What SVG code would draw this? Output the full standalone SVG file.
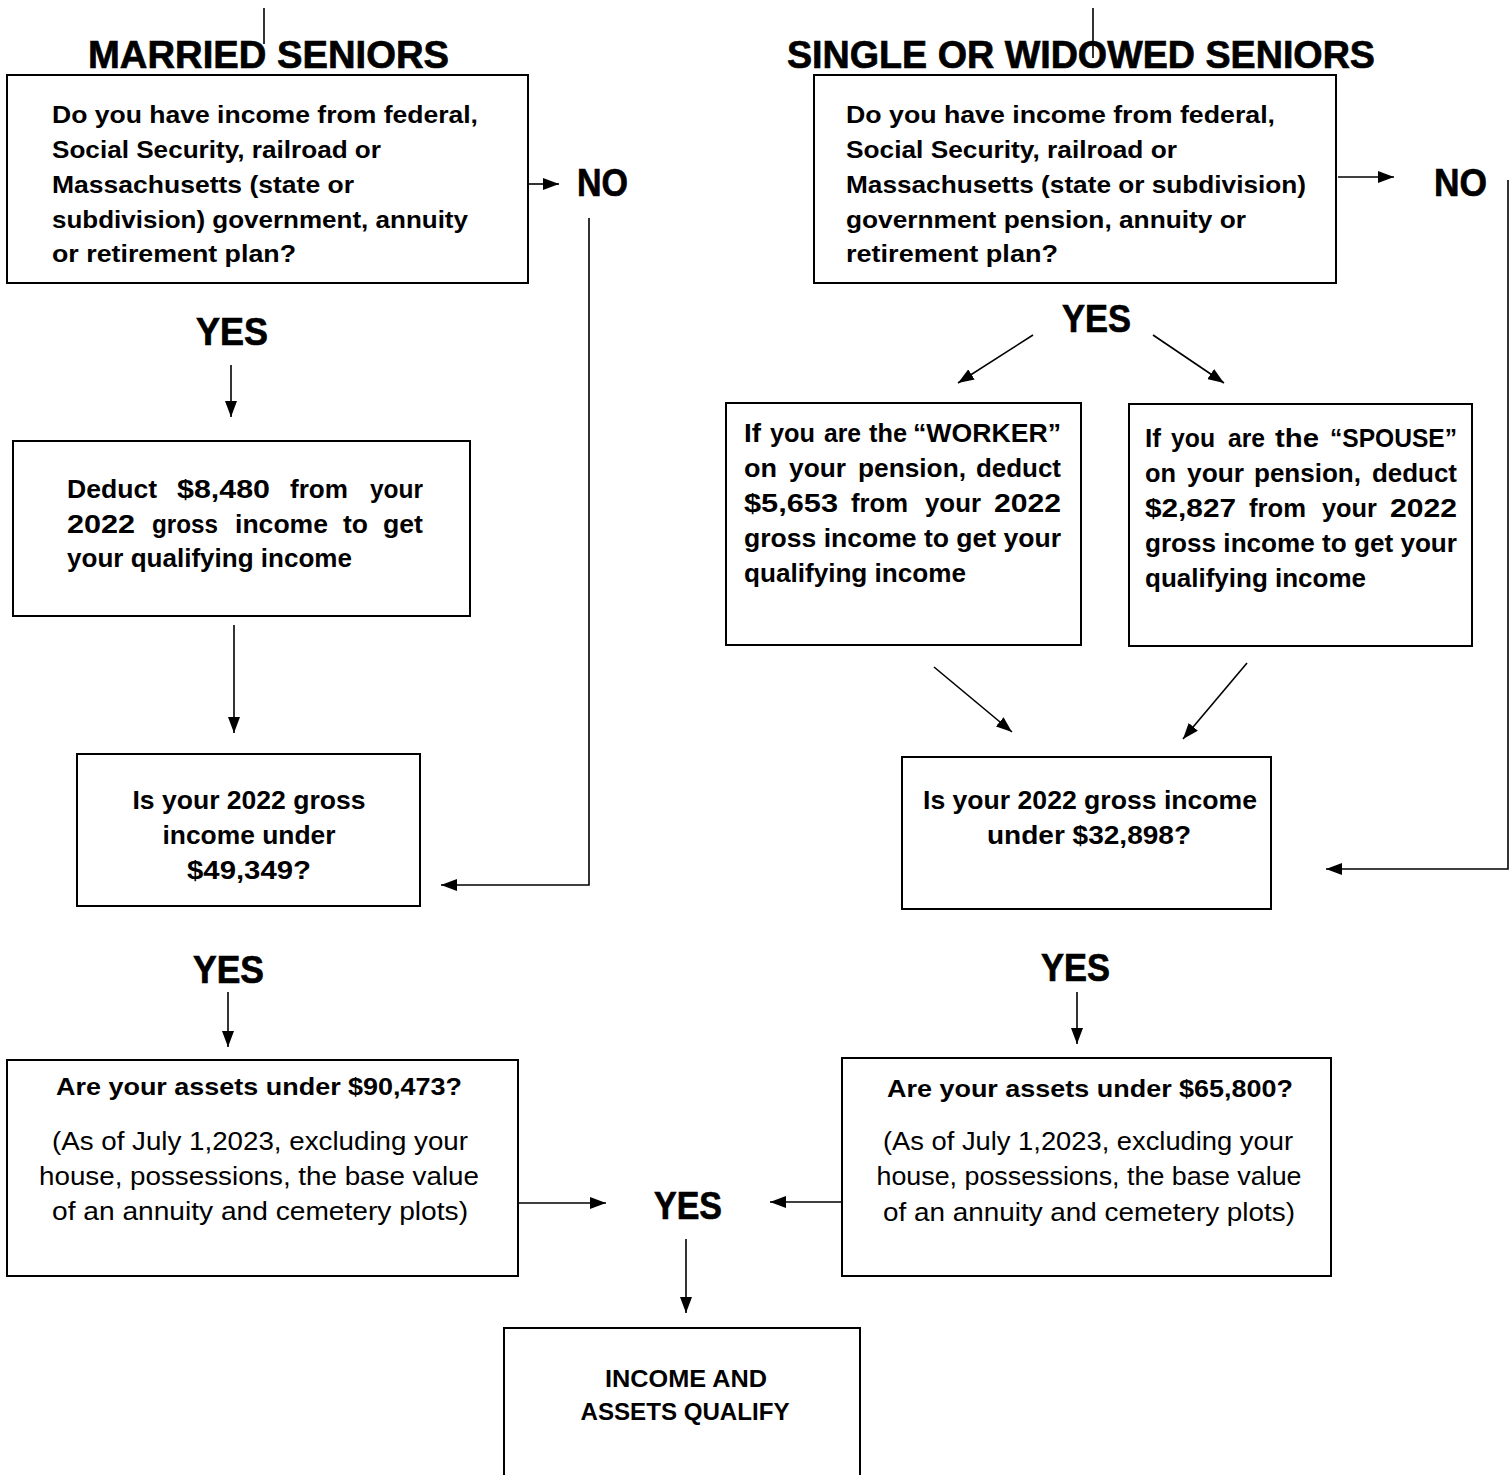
<svg xmlns="http://www.w3.org/2000/svg" width="1512" height="1475" viewBox="0 0 1512 1475">
<style>
.box{fill:#fff;stroke:#000;stroke-width:2}
.t{font-family:"Liberation Sans",Arial,sans-serif;font-weight:bold;font-size:24px;fill:#000}
.tr{font-family:"Liberation Sans",Arial,sans-serif;font-weight:normal;font-size:25px;fill:#000}
.tb{font-family:"Liberation Sans",Arial,sans-serif;font-weight:bold;font-size:25px;fill:#000}
.h{font-family:"Liberation Sans",Arial,sans-serif;font-weight:bold;font-size:39px;fill:#000;stroke:#000;stroke-width:0.7}
.c{text-anchor:middle}
.ln{fill:none;stroke:#000;stroke-width:1.6}
</style>
<defs>
<marker id="ah" viewBox="0 0 16 12" refX="16" refY="6" markerWidth="16" markerHeight="12" markerUnits="userSpaceOnUse" orient="auto">
<path d="M0,0 L16,6 L0,12 z" fill="#000"/>
</marker>
</defs>
<rect width="1512" height="1475" fill="#fff"/>

<g id="connectors">
<line class="ln" x1="264" y1="8" x2="264" y2="44"/>
<line class="ln" x1="1093" y1="8" x2="1093" y2="58"/>
<line class="ln" x1="527" y1="184" x2="559" y2="184" marker-end="url(#ah)"/>
<polyline class="ln" points="589,218 589,885 441,885" marker-end="url(#ah)"/>
<line class="ln" x1="1338" y1="177" x2="1394" y2="177" marker-end="url(#ah)"/>
<polyline class="ln" points="1508,180 1508,869 1326,869" marker-end="url(#ah)"/>
<line class="ln" x1="231" y1="365" x2="231" y2="417" marker-end="url(#ah)"/>
<line class="ln" x1="234" y1="625" x2="234" y2="733" marker-end="url(#ah)"/>
<line class="ln" x1="1033" y1="335" x2="958" y2="383" marker-end="url(#ah)"/>
<line class="ln" x1="1153" y1="335" x2="1224" y2="383" marker-end="url(#ah)"/>
<line class="ln" x1="934" y1="667" x2="1012" y2="732" marker-end="url(#ah)"/>
<line class="ln" x1="1247" y1="663" x2="1183" y2="739" marker-end="url(#ah)"/>
<line class="ln" x1="228" y1="992" x2="228" y2="1047" marker-end="url(#ah)"/>
<line class="ln" x1="1077" y1="992" x2="1077" y2="1044" marker-end="url(#ah)"/>
<line class="ln" x1="519" y1="1203" x2="606" y2="1203" marker-end="url(#ah)"/>
<line class="ln" x1="843" y1="1202" x2="770" y2="1202" marker-end="url(#ah)"/>
<line class="ln" x1="686" y1="1239" x2="686" y2="1313" marker-end="url(#ah)"/>
</g>

<g id="title-married"><text class="h" x="88" y="68" textLength="361" lengthAdjust="spacingAndGlyphs">MARRIED SENIORS</text></g>
<g id="title-single"><text class="h" x="787" y="68" textLength="588" lengthAdjust="spacingAndGlyphs">SINGLE OR WIDOWED SENIORS</text></g>

<g id="married-q1">
<rect class="box" x="7" y="75" width="521" height="208"/>
<text class="t" x="52" y="123" textLength="426" lengthAdjust="spacingAndGlyphs">Do you have income from federal,</text>
<text class="t" x="52" y="158" textLength="329" lengthAdjust="spacingAndGlyphs">Social Security, railroad or</text>
<text class="t" x="52" y="193" textLength="302" lengthAdjust="spacingAndGlyphs">Massachusetts (state or</text>
<text class="t" x="52" y="228" textLength="416" lengthAdjust="spacingAndGlyphs">subdivision) government, annuity</text>
<text class="t" x="52" y="262" textLength="244" lengthAdjust="spacingAndGlyphs">or retirement plan?</text>
</g>

<g id="single-q1">
<rect class="box" x="814" y="75" width="522" height="208"/>
<text class="t" x="846" y="123" textLength="429" lengthAdjust="spacingAndGlyphs">Do you have income from federal,</text>
<text class="t" x="846" y="158" textLength="331" lengthAdjust="spacingAndGlyphs">Social Security, railroad or</text>
<text class="t" x="846" y="193" textLength="460" lengthAdjust="spacingAndGlyphs">Massachusetts (state or subdivision)</text>
<text class="t" x="846" y="228" textLength="400" lengthAdjust="spacingAndGlyphs">government pension, annuity or</text>
<text class="t" x="846" y="262" textLength="212" lengthAdjust="spacingAndGlyphs">retirement plan?</text>
</g>

<g id="no-married"><text class="h" x="577" y="196" textLength="51" lengthAdjust="spacingAndGlyphs">NO</text></g>
<g id="no-single"><text class="h" x="1434" y="196" textLength="53" lengthAdjust="spacingAndGlyphs">NO</text></g>
<g id="yes-married-1"><text class="h" x="196" y="345" textLength="72" lengthAdjust="spacingAndGlyphs">YES</text></g>
<g id="yes-single-1"><text class="h" x="1062" y="332" textLength="69" lengthAdjust="spacingAndGlyphs">YES</text></g>

<g id="married-deduct">
<rect class="box" x="13" y="441" width="457" height="175"/>
<text class="tb" y="498"><tspan x="67" textLength="90" lengthAdjust="spacingAndGlyphs">Deduct</tspan></text>
<text class="tb" y="498"><tspan x="177" textLength="93" lengthAdjust="spacingAndGlyphs">$8,480</tspan></text>
<text class="tb" y="498"><tspan x="290" textLength="58" lengthAdjust="spacingAndGlyphs">from</tspan></text>
<text class="tb" y="498"><tspan x="370" textLength="53" lengthAdjust="spacingAndGlyphs">your</tspan></text>
<text class="tb" y="533"><tspan x="67" textLength="68" lengthAdjust="spacingAndGlyphs">2022</tspan></text>
<text class="tb" y="533"><tspan x="152" textLength="66" lengthAdjust="spacingAndGlyphs">gross</tspan></text>
<text class="tb" y="533"><tspan x="235" textLength="93" lengthAdjust="spacingAndGlyphs">income</tspan></text>
<text class="tb" y="533"><tspan x="343" textLength="25" lengthAdjust="spacingAndGlyphs">to</tspan></text>
<text class="tb" y="533"><tspan x="383" textLength="40" lengthAdjust="spacingAndGlyphs">get</tspan></text>
<text class="tb" x="67" y="567" textLength="285" lengthAdjust="spacingAndGlyphs">your qualifying income</text>
</g>

<g id="single-worker">
<rect class="box" x="726" y="403" width="355" height="242"/>
<text class="tb" y="442"><tspan x="744" textLength="17" lengthAdjust="spacingAndGlyphs">If</tspan></text>
<text class="tb" y="442"><tspan x="770" textLength="45" lengthAdjust="spacingAndGlyphs">you</tspan></text>
<text class="tb" y="442"><tspan x="824" textLength="37" lengthAdjust="spacingAndGlyphs">are</tspan></text>
<text class="tb" y="442"><tspan x="869" textLength="38" lengthAdjust="spacingAndGlyphs">the</tspan></text>
<text class="tb" y="442"><tspan x="913" textLength="148" lengthAdjust="spacingAndGlyphs">“WORKER”</tspan></text>
<text class="tb" y="477"><tspan x="744" textLength="33" lengthAdjust="spacingAndGlyphs">on</tspan></text>
<text class="tb" y="477"><tspan x="789" textLength="57" lengthAdjust="spacingAndGlyphs">your</tspan></text>
<text class="tb" y="477"><tspan x="858" textLength="108" lengthAdjust="spacingAndGlyphs">pension,</tspan></text>
<text class="tb" y="477"><tspan x="976" textLength="85" lengthAdjust="spacingAndGlyphs">deduct</tspan></text>
<text class="tb" y="512"><tspan x="744" textLength="94" lengthAdjust="spacingAndGlyphs">$5,653</tspan></text>
<text class="tb" y="512"><tspan x="851" textLength="57" lengthAdjust="spacingAndGlyphs">from</tspan></text>
<text class="tb" y="512"><tspan x="925" textLength="56" lengthAdjust="spacingAndGlyphs">your</tspan></text>
<text class="tb" y="512"><tspan x="994" textLength="67" lengthAdjust="spacingAndGlyphs">2022</tspan></text>
<text class="tb" x="744" y="547" textLength="317" lengthAdjust="spacingAndGlyphs">gross income to get your</text>
<text class="tb" x="744" y="582" textLength="222" lengthAdjust="spacingAndGlyphs">qualifying income</text>
</g>

<g id="single-spouse">
<rect class="box" x="1129" y="404" width="343" height="242"/>
<text class="tb" y="447"><tspan x="1145" textLength="16" lengthAdjust="spacingAndGlyphs">If</tspan></text>
<text class="tb" y="447"><tspan x="1171" textLength="44" lengthAdjust="spacingAndGlyphs">you</tspan></text>
<text class="tb" y="447"><tspan x="1228" textLength="37" lengthAdjust="spacingAndGlyphs">are</tspan></text>
<text class="tb" y="447"><tspan x="1275" textLength="44" lengthAdjust="spacingAndGlyphs">the</tspan></text>
<text class="tb" y="447"><tspan x="1330" textLength="127" lengthAdjust="spacingAndGlyphs">“SPOUSE”</tspan></text>
<text class="tb" y="482"><tspan x="1145" textLength="31" lengthAdjust="spacingAndGlyphs">on</tspan></text>
<text class="tb" y="482"><tspan x="1187" textLength="57" lengthAdjust="spacingAndGlyphs">your</tspan></text>
<text class="tb" y="482"><tspan x="1254" textLength="107" lengthAdjust="spacingAndGlyphs">pension,</tspan></text>
<text class="tb" y="482"><tspan x="1372" textLength="85" lengthAdjust="spacingAndGlyphs">deduct</tspan></text>
<text class="tb" y="517"><tspan x="1145" textLength="91" lengthAdjust="spacingAndGlyphs">$2,827</tspan></text>
<text class="tb" y="517"><tspan x="1249" textLength="57" lengthAdjust="spacingAndGlyphs">from</tspan></text>
<text class="tb" y="517"><tspan x="1322" textLength="55" lengthAdjust="spacingAndGlyphs">your</tspan></text>
<text class="tb" y="517"><tspan x="1390" textLength="67" lengthAdjust="spacingAndGlyphs">2022</tspan></text>
<text class="tb" x="1145" y="552" textLength="312" lengthAdjust="spacingAndGlyphs">gross income to get your</text>
<text class="tb" x="1145" y="587" textLength="221" lengthAdjust="spacingAndGlyphs">qualifying income</text>
</g>

<g id="married-income">
<rect class="box" x="77" y="754" width="343" height="152"/>
<text class="tb c" x="249" y="809" textLength="233" lengthAdjust="spacingAndGlyphs">Is your 2022 gross</text>
<text class="tb c" x="249" y="844" textLength="173" lengthAdjust="spacingAndGlyphs">income under</text>
<text class="tb c" x="249" y="879" textLength="124" lengthAdjust="spacingAndGlyphs">$49,349?</text>
</g>

<g id="single-income">
<rect class="box" x="902" y="757" width="369" height="152"/>
<text class="tb c" x="1090" y="809" textLength="334" lengthAdjust="spacingAndGlyphs">Is your 2022 gross income</text>
<text class="tb c" x="1089" y="844" textLength="204" lengthAdjust="spacingAndGlyphs">under $32,898?</text>
</g>

<g id="yes-married-2"><text class="h" x="193" y="983" textLength="71" lengthAdjust="spacingAndGlyphs">YES</text></g>
<g id="yes-single-2"><text class="h" x="1041" y="981" textLength="69" lengthAdjust="spacingAndGlyphs">YES</text></g>

<g id="married-assets">
<rect class="box" x="7" y="1060" width="511" height="216"/>
<text class="t c" x="259" y="1095" textLength="406" lengthAdjust="spacingAndGlyphs">Are your assets under $90,473?</text>
<text class="tr c" x="260" y="1150" textLength="416" lengthAdjust="spacingAndGlyphs">(As of July 1,2023, excluding your</text>
<text class="tr c" x="259" y="1185" textLength="440" lengthAdjust="spacingAndGlyphs">house, possessions, the base value</text>
<text class="tr c" x="260" y="1220" textLength="416" lengthAdjust="spacingAndGlyphs">of an annuity and cemetery plots)</text>
</g>

<g id="single-assets">
<rect class="box" x="842" y="1058" width="489" height="218"/>
<text class="t c" x="1090" y="1097" textLength="406" lengthAdjust="spacingAndGlyphs">Are your assets under $65,800?</text>
<text class="tr c" x="1088" y="1150" textLength="410" lengthAdjust="spacingAndGlyphs">(As of July 1,2023, excluding your</text>
<text class="tr c" x="1089" y="1185" textLength="425" lengthAdjust="spacingAndGlyphs">house, possessions, the base value</text>
<text class="tr c" x="1089" y="1221" textLength="412" lengthAdjust="spacingAndGlyphs">of an annuity and cemetery plots)</text>
</g>

<g id="yes-final"><text class="h" x="654" y="1219" textLength="68" lengthAdjust="spacingAndGlyphs">YES</text></g>

<g id="qualify">
<rect class="box" x="504" y="1328" width="356" height="170"/>
<text class="t c" x="686" y="1387" textLength="162" lengthAdjust="spacingAndGlyphs">INCOME AND</text>
<text class="t c" x="685" y="1420" textLength="209" lengthAdjust="spacingAndGlyphs">ASSETS QUALIFY</text>
</g>
</svg>
